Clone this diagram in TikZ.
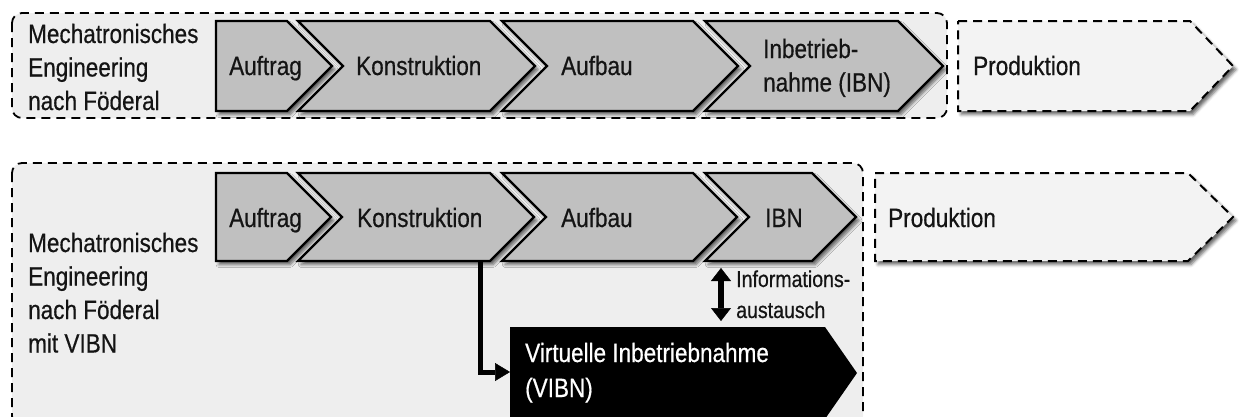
\documentclass[tikz,border=0pt]{standalone}
\usepackage{fontspec}
\setmainfont{Liberation Sans}[FakeStretch=0.85,FakeBold=0.5]
\usetikzlibrary{arrows.meta,shadows.blur}
\definecolor{stagefill}{RGB}{192,192,192}
\definecolor{panelfill}{RGB}{238,238,238}
\definecolor{prodfill}{RGB}{243,243,243}
\definecolor{inktext}{RGB}{20,20,20}
\newcommand\mylines[1]{\begin{tabular}[t]{@{}l@{}}#1\end{tabular}}
\tikzset{
  panel/.style={draw=black, line width=1.8pt, dash pattern=on 9pt off 6pt,
    fill=panelfill, rounded corners=10pt},
  stage/.style={draw=black, line width=2.2pt, fill=stagefill, line join=miter,
    blur shadow={shadow xshift=3pt, shadow yshift=-3.5pt, shadow blur radius=3pt, shadow opacity=60}},
  prodstage/.style={draw=black, line width=2pt, dash pattern=on 9pt off 6pt,
    fill=prodfill,
    blur shadow={shadow xshift=3pt, shadow yshift=-3.5pt, shadow blur radius=3pt, shadow opacity=60}},
  vibnstage/.style={fill=black},
  bigtext/.style={inner sep=0pt, anchor=base west, text=inktext,
    font=\fontsize{26.5}{33.5}\selectfont},
  smalltext/.style={inner sep=0pt, anchor=base west, text=inktext,
    font=\fontsize{23}{31}\selectfont},
  flow/.style={line width=5pt, -{Triangle[width=18pt,length=15pt,line width=0.5pt,fill=black]}},
  exchange/.style={line width=6pt,
    {Triangle[width=20pt,length=13pt,line width=0.5pt,fill=black]}-{Triangle[width=20pt,length=13pt,line width=0.5pt,fill=black]}},
}
\begin{document}
\begin{tikzpicture}[x=1pt,y=-1pt]
\useasboundingbox (0,0) rectangle (1240,416);
\clip (0,0) rectangle (1240,416);

% ---- row 1: classic mechatronic engineering ----
\draw[panel] (12,13) rectangle (947,118);
\node[bigtext] (l1) at (28,43) {\mylines{Mechatronisches\\Engineering\\nach Föderal}};

\filldraw[stage] (216,21) -- (287,21) -- (332,66) -- (287,111) -- (216,111) -- cycle;
\filldraw[stage] (298,21) -- (490,21) -- (535,66) -- (490,111) -- (298,111) -- (343,66) -- cycle;
\filldraw[stage] (502,21) -- (693,21) -- (738,66) -- (693,111) -- (502,111) -- (547,66) -- cycle;
\filldraw[stage] (705,21) -- (898,21) -- (943,66) -- (898,111) -- (705,111) -- (750,66) -- cycle;
\filldraw[prodstage] (958,21) -- (1190,21) -- (1233,66) -- (1190,111) -- (958,111) -- cycle;

\node[bigtext] (a1) at (229,75) {Auftrag};
\node[bigtext] (k1) at (356,75) {Konstruktion};
\node[bigtext] (b1) at (561,75) {Aufbau};
\node[bigtext] (i1) at (763,58) {\mylines{Inbetrieb-\\nahme (IBN)}};
\node[bigtext] (p1) at (973,75) {Produktion};

% ---- row 2: with virtual commissioning ----
\draw[panel] (12,163) rectangle (863,426);
\node[bigtext] (l2) at (28,252) {\mylines{Mechatronisches\\Engineering\\nach Föderal\\mit VIBN}};

\filldraw[stage] (216,173) -- (287,173) -- (331,217) -- (287,261) -- (216,261) -- cycle;
\filldraw[stage] (298,173) -- (490,173) -- (534,217) -- (490,261) -- (298,261) -- (342,217) -- cycle;
\filldraw[stage] (502,173) -- (693,173) -- (737,217) -- (693,261) -- (502,261) -- (546,217) -- cycle;
\filldraw[stage] (705,173) -- (812,173) -- (856,217) -- (812,261) -- (705,261) -- (749,217) -- cycle;
\filldraw[prodstage] (875,173) -- (1188,173) -- (1233,217) -- (1188,261) -- (875,261) -- cycle;

\node[bigtext] (a2) at (229,227) {Auftrag};
\node[bigtext] (k2) at (357,227) {Konstruktion};
\node[bigtext] (b2) at (561,227) {Aufbau};
\node[bigtext] (i2) at (765,227) {IBN};
\node[bigtext] (p2) at (888,227) {Produktion};

\fill[vibnstage] (510,327) -- (825,327) -- (857,373) -- (825,419) -- (510,419) -- cycle;
\node[bigtext, text=white] (v2) at (525,362) {\mylines{Virtuelle Inbetriebnahme\\[1.5pt](VIBN)}};

% connector anchors
\coordinate (konsB) at (480,262);
\coordinate (vibnL) at (510,372);
\coordinate (ibnB) at (721,261);
\coordinate (vibnT) at (721,327);

\draw[flow] (konsB) |- (vibnL);
\draw[exchange, shorten <=7pt, shorten >=6pt] (ibnB) -- (vibnT);
\node[smalltext] (info) at (736,287) {\mylines{Informations-\\austausch}};
\end{tikzpicture}
\end{document}
